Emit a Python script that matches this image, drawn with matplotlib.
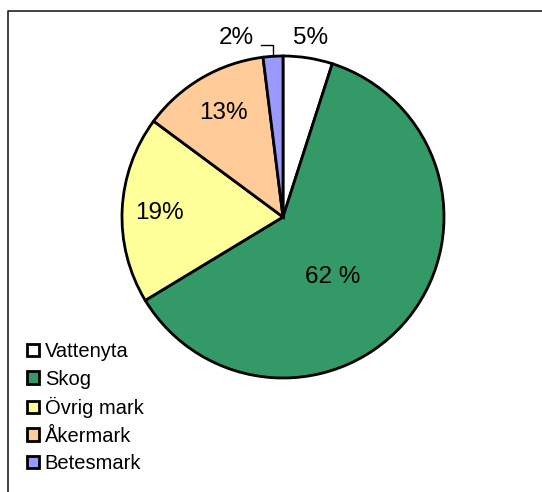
import matplotlib
matplotlib.use("Agg")
import matplotlib.pyplot as plt
from matplotlib.patches import Rectangle
from matplotlib.lines import Line2D

# land use shares (%)
categories = ["Vattenyta", "Skog", "Övrig mark", "Åkermark", "Betesmark"]
shares = [5, 62, 19, 13, 2]
pct_labels = ["5%", "62 %", "19%", "13%", "2%"]
colors = ["#FFFFFF", "#339966", "#FFFF99", "#FFCC99", "#9999FF"]

# where each percentage text sits, in pie radius units
label_xy = [(0.174, 1.109), (0.31, -0.373), (-0.77, 0.025),
            (-0.373, 0.646), (-0.292, 1.109)]

plt.rcParams['font.family'] = ['Liberation Sans', 'DejaVu Sans']

W, H = 542, 492
fig = plt.figure(figsize=(W / 100, H / 100), dpi=100)

# pie centre and radius in pixels
cx, cy, r = 283, 217, 161
lim = 1.4
ax = fig.add_axes([(cx - r * lim) / W, (H - cy - r * lim) / H,
                   2 * r * lim / W, 2 * r * lim / H])
wedges, _ = ax.pie(shares, colors=colors, startangle=90, counterclock=False,
                   radius=1.0,
                   wedgeprops=dict(edgecolor="black", linewidth=2.0))
ax.set_xlim(-lim, lim)
ax.set_ylim(-lim, lim)
ax.set_aspect("equal")
ax.axis("off")

for txt, (x, y) in zip(pct_labels, label_xy):
    ax.text(x, y, txt, ha="center", va="center", fontsize=17.5, color="black")

# leader line for the small slice
ax.plot([-0.137, -0.065, -0.065], [1.068, 1.068, 1.0], color="black", lw=1.0)

handles = [Rectangle((0, 0), 1, 1, facecolor=c, edgecolor="black", linewidth=2.0)
           for c in colors]
fig.legend(handles, categories, loc="lower left",
           bbox_to_anchor=(27 / W, 19 / H), frameon=False, fontsize=14.5,
           handlelength=0.58, handleheight=0.58, handletextpad=0.3,
           labelspacing=0.42, borderpad=0, borderaxespad=0)

# partial border (left and top)
fig.add_artist(Line2D([8 / W, 8 / W, 1.0], [0.0, 1 - 11 / H, 1 - 11 / H],
                      transform=fig.transFigure, color="#222222", lw=1.2))

fig.savefig("out.png", dpi=100)
